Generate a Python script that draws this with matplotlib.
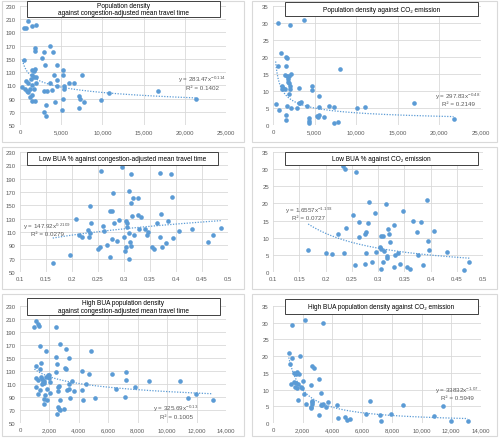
import matplotlib
matplotlib.use("Agg")
import matplotlib.pyplot as plt
from matplotlib.patches import Rectangle
import numpy as np

plt.rcParams['font.family'] = ['Liberation Sans', 'DejaVu Sans']
plt.rcParams['mathtext.fontset'] = 'custom'
plt.rcParams['mathtext.rm'] = 'Liberation Sans'
plt.rcParams['mathtext.it'] = 'Liberation Sans:italic'

# ---------------- DATA ----------------
# Panel 1: population density vs congestion-adjusted mean travel time
p1_density = [300, 480, 560, 700, 900, 1000, 1300, 1400, 1500, 1700, 1850, 1700, 2000, 1200, 1450,
              1500, 1800, 1700, 1900, 1400, 1200, 950,
              500, 750, 950, 1500, 1950,
              3700, 4000, 1800, 1850, 2700, 2900, 3000, 4500,
              5200, 5200, 4100, 4500, 7500, 6500, 5900, 3700, 5300, 5300, 4500, 2900, 3300, 3900,
              7100, 7300, 7800, 5200, 9800, 10800, 16700, 21300, 4200, 3200, 5100, 7100, 2900, 3200]
p1_travel = [108, 149, 105, 116, 102, 113, 119, 125, 133, 131, 135, 123, 123, 93, 96,
             87, 87, 105, 113, 110, 105, 100,
             197, 197, 207, 199, 202,
             170, 160, 162, 166, 151, 160, 141, 141,
             133, 125, 125, 118, 126, 114, 113, 113, 109, 104, 109, 101, 101, 103,
             94, 89, 85, 90, 88, 99, 101, 89, 85, 81, 73, 75, 70, 63]

# Panel 2: population density vs CO2 emission
p2_density = [640, 2080, 3770, 920, 660, 1600, 1640, 1520, 2200, 1440, 1680, 1880, 1760, 1760, 1920,
              2000, 1080, 1160, 1040, 1400, 2040, 1880, 3160, 4690, 4730, 8000, 320, 680, 1680,
              2160, 2880, 1600, 1560, 3290, 3400, 3080, 4090, 5490, 5490, 6730, 7290, 5290, 5490,
              5450, 4330, 4370, 4370, 6170, 7330, 7770, 10100, 11060, 17000, 21700]
p2_co2 = [30.0, 29.3, 30.9, 21.1, 17.5, 19.9, 19.6, 17.3, 15.1, 14.7, 14.3, 14.5, 13.5, 12.7, 12.3,
          11.5, 11.5, 11.0, 10.5, 10.5, 10.5, 9.0, 11.0, 11.5, 10.3, 16.6, 6.1, 4.4, 5.6,
          4.9, 4.9, 2.8, 1.5, 6.6, 6.9, 6.4, 5.6, 5.4, 8.6, 5.6, 5.4, 2.7, 3.0,
          2.4, 2.0, 1.2, 0.7, 2.4, 0.7, 0.9, 5.1, 5.4, 6.6, 1.9]

# Panel 3: low BUA % vs congestion-adjusted mean travel time
p3_lowbua = [0.163, 0.197, 0.208, 0.213, 0.220, 0.231, 0.232, 0.234, 0.234, 0.237, 0.250, 0.254,
             0.255, 0.259, 0.261, 0.268, 0.273, 0.273, 0.276, 0.276, 0.278, 0.280, 0.287, 0.290,
             0.297, 0.300, 0.301, 0.303, 0.304, 0.305, 0.306, 0.309, 0.310, 0.310, 0.312, 0.313,
             0.314, 0.314, 0.316, 0.318, 0.320, 0.326, 0.327, 0.329, 0.333, 0.340, 0.345, 0.346,
             0.353, 0.358, 0.363, 0.369, 0.370, 0.372, 0.373, 0.381, 0.384, 0.391, 0.393, 0.395,
             0.405, 0.430, 0.462, 0.472, 0.486]
p3_travel = [64, 75, 129, 105, 102, 113, 103, 109, 149, 124, 84, 88,
             201, 119, 111, 90, 73, 142, 142, 100, 168, 123, 97, 128,
             207, 102, 82, 127, 87, 118, 124, 108, 171, 70, 95, 89,
             153, 197, 134, 161, 105, 161, 136, 114, 133, 114, 105, 110,
             87, 85, 123, 199, 102, 137, 88, 94, 126, 197, 163, 101,
             112, 115, 95, 105, 116]

# Panel 4: low BUA % vs CO2 emission
p4_lowbua = [0.167, 0.200, 0.212, 0.223, 0.234, 0.238, 0.239, 0.236, 0.253, 0.258, 0.257, 0.263,
             0.263, 0.275, 0.277, 0.277, 0.276, 0.280, 0.283, 0.288, 0.295, 0.296, 0.304, 0.306,
             0.306, 0.309, 0.305, 0.309, 0.312, 0.315, 0.317, 0.317, 0.319, 0.320, 0.322, 0.330,
             0.332, 0.330, 0.338, 0.342, 0.348, 0.356, 0.360, 0.366, 0.374, 0.376, 0.382, 0.386,
             0.394, 0.396, 0.397, 0.407, 0.432, 0.464, 0.474]
p4_co2 = [6.5, 5.5, 5.3, 11.0, 30.9, 30.0, 12.8, 5.5, 16.5, 29.3, 2.0, 14.6,
          10.3, 11.2, 11.6, 5.6, 2.4, 14.3, 20.3, 2.8, 17.3, 5.7, 7.2, 6.7,
          10.5, 10.5, 1.0, 2.9, 6.2, 19.7, 4.7, 4.2, 12.5, 11.1, 8.7, 13.6,
          5.0, 1.4, 5.5, 2.4, 17.8, 1.6, 0.9, 15.0, 11.7, 5.0, 14.7, 2.0,
          21.1, 9.0, 6.3, 11.9, 5.7, 0.6, 2.8]

# Panel 5: high BUA population density vs congestion-adjusted mean travel time
p5_highbua = [980, 1100, 1230, 1280, 2470, 1330, 1760, 2700, 4850, 3150, 2470, 2490, 3300,
              1100, 1420, 1390, 3040, 3100, 2470, 4180, 4700, 6280, 7180,
              1100, 1190, 1440, 1500, 1530, 1600, 1780, 1900, 1990, 2000, 1500, 1600, 2060,
              1070, 1190, 1370, 1700, 1600, 1830, 2060, 1620, 1850,
              2600, 2650, 2580, 3300, 3200, 3540, 3360, 3660, 3430, 2700, 2580, 2670, 2740, 3000,
              2540, 4200, 4300, 4500, 5100, 6500, 7180, 7150, 7840, 8770, 10850, 11430, 11950, 13100]
p5_travel = [198, 207, 203, 200, 198, 168, 161, 171, 161, 164, 152, 141, 150,
             137, 142, 133, 135, 133, 128, 130, 125, 126, 128,
             120, 116, 121, 118, 113, 115, 121, 124, 120, 124, 110, 111, 113,
             105, 94, 101, 93, 87, 103, 96, 80, 86,
             105, 107, 100, 110, 101, 114, 103, 100, 88, 85, 74, 72, 70, 72,
             64, 101, 86, 110, 89, 102, 116, 90, 105, 115, 114, 88, 94, 85]

# Panel 6: high BUA population density vs CO2 emission
p6_highbua = [1060, 1170, 1260, 1300, 2180, 3370, 1840, 1190, 1420, 1530, 1620, 1750, 1440, 1570,
              1710, 1460, 1620, 1910, 1980, 2040, 2090, 1710, 2220, 2540, 2630, 2790, 2600, 2620,
              2640, 2580, 2560, 3100, 3240, 3210, 3300, 3370, 3690, 3600, 3080, 4300, 4400,
              4820, 4960, 5160, 6280, 6550, 7220, 7240, 7910, 8770, 10850, 11430, 11950, 13100]
p6_co2 = [20.9, 17.6, 19.4, 29.3, 30.9, 29.9, 20.0, 11.7, 15.0, 14.8, 15.3, 14.7, 12.3, 12.0,
          11.7, 10.8, 10.4, 10.8, 10.4, 12.6, 8.6, 7.0, 5.6, 11.5, 17.1, 16.5, 6.6, 6.2,
          5.6, 4.9, 4.4, 13.2, 8.9, 5.4, 5.4, 5.6, 6.4, 4.7, 2.3, 5.5, 1.4,
          1.7, 1.0, 1.3, 2.8, 6.5, 2.5, 0.7, 2.7, 5.5, 2.2, 5.0, 0.5, 0.7]

# Power trendlines (coefficient, exponent) and R² as labelled in the chart
trends = [(283.47, -0.114, "0.1402", "-0.114"),
          (297.83, -0.48, "0.2149", "-0.48"),
          (147.92, 0.2109, "0.0279", "0.2109"),
          (1.6557, -1.193, "0.0727", "-1.193"),
          (325.69, -0.13, "0.1005", "-0.13"),
          (33832, -1.07, "0.5949", "-1.07")]
coef_labels = ["283.47", "297.83", "147.92", "1.6557", "325.69", "33832"]

titles = ["Population density\nagainst congestion-adjusted mean travel time",
          "Population density against CO\u2082 emission",
          "Low BUA % against congestion-adjusted mean travel time",
          "Low BUA % against CO\u2082 emission",
          "High BUA population density\nagainst congestion-adjusted mean travel time",
          "High BUA population density against CO\u2082 emission"]

xs = [p1_density, p2_density, p3_lowbua, p4_lowbua, p5_highbua, p6_highbua]
ys = [p1_travel, p2_co2, p3_travel, p4_co2, p5_travel, p6_co2]

travel_ticks = list(range(50, 231, 20))
co2_ticks = list(range(0, 36, 5))
density_ticks = list(range(0, 25001, 5000))
lowbua_ticks = [0.1, 0.15, 0.2, 0.25, 0.3, 0.35, 0.4, 0.45, 0.5]
highbua_ticks = list(range(0, 14001, 2000))
xticks = [density_ticks, density_ticks, lowbua_ticks, lowbua_ticks, highbua_ticks, highbua_ticks]
yticks = [travel_ticks, co2_ticks, travel_ticks, co2_ticks, travel_ticks, co2_ticks]

# ---------------- LAYOUT (pixels) ----------------
W, H = 500, 439
fig = plt.figure(figsize=(W / 100, H / 100), dpi=100)
fig.patch.set_facecolor('white')

BLUE = '#5b9bd5'
GRID = '#d9d9d9'
TXT = '#595959'

panel_boxes = [(2, 2, 244, 143), (252, 2, 497, 143),
               (2, 148, 244, 290), (252, 148, 497, 290),
               (2, 295, 244, 437), (252, 295, 497, 437)]
axes_px = [(20, 226, 7, 126), (273, 481, 7, 126),
           (20, 228, 153, 273), (273, 483, 153, 273),
           (20, 226, 307, 424), (273, 481, 307, 424)]
title_boxes = [(27, 2, 220, 18), (285, 3, 478, 17),
               (27, 153, 218, 166), (285, 153, 478, 166),
               (27, 299, 220, 316), (285, 300, 478, 315)]
eq_pos = [(202, 80, 88), (458, 97, 104), (47, 227, 235),
          (309, 211, 219), (176, 409, 418), (457, 391, 399)]


def fx(x):
    return x / W


def fy(y):
    return 1 - y / H


for i in range(6):
    bx0, by0, bx1, by1 = panel_boxes[i]
    fig.add_artist(Rectangle((fx(bx0), fy(by1)), (bx1 - bx0) / W, (by1 - by0) / H,
                             transform=fig.transFigure, facecolor='white',
                             edgecolor=GRID, lw=0.8, zorder=-5))
    x0, x1, yt, yb = axes_px[i]
    ax = fig.add_axes([fx(x0), fy(yb), (x1 - x0) / W, (yb - yt) / H])
    ax.set_facecolor('none')
    xv = np.array(xs[i], dtype=float)
    yv = np.array(ys[i], dtype=float)
    ax.scatter(xv, yv, s=11, color=BLUE, linewidths=0, zorder=3)
    a, b, r2, bs = trends[i]
    xx = np.linspace(xv.min(), xv.max(), 300)
    ax.plot(xx, a * xx ** b, color=BLUE, lw=0.9, ls=(0, (1, 1.2)), zorder=2)
    xt = xticks[i]
    yt_ = yticks[i]
    ax.set_xlim(xt[0], xt[-1])
    ax.set_ylim(yt_[0], yt_[-1])
    ax.set_xticks(xt)
    ax.set_yticks(yt_)
    if i in (2, 3):
        ax.set_xticklabels([f"{v:g}" for v in xt])
    else:
        ax.set_xticklabels([f"{v:,.0f}" for v in xt])
    ax.set_yticklabels([f"{v:g}" for v in yt_])
    ax.tick_params(length=0, labelsize=4.3, labelcolor=TXT, pad=3)
    ax.grid(True, color=GRID, lw=0.6)
    ax.set_axisbelow(True)
    for s in ax.spines.values():
        s.set_visible(False)

    # title box
    tx0, ty0, tx1, ty1 = title_boxes[i]
    fig.add_artist(Rectangle((fx(tx0), fy(ty1)), (tx1 - tx0) / W, (ty1 - ty0) / H,
                             transform=fig.transFigure, facecolor='white',
                             edgecolor='#404040', lw=0.7, zorder=5))
    fig.text(fx((tx0 + tx1) / 2), fy((ty0 + ty1) / 2), titles[i], ha='center', va='center',
             fontsize=4.7, color='black', zorder=6, linespacing=1.15)

    # equation
    ex, ey1, ey2 = eq_pos[i]
    fig.text(fx(ex), fy(ey1), f"y = {coef_labels[i]}x$^{{{bs}}}$", ha='center', va='center',
             fontsize=4.5, color=TXT, zorder=6)
    fig.text(fx(ex), fy(ey2), f"R\u00b2 = {r2}", ha='center', va='center',
             fontsize=4.5, color=TXT, zorder=6)

fig.savefig("out.png", dpi=100, facecolor='white')
